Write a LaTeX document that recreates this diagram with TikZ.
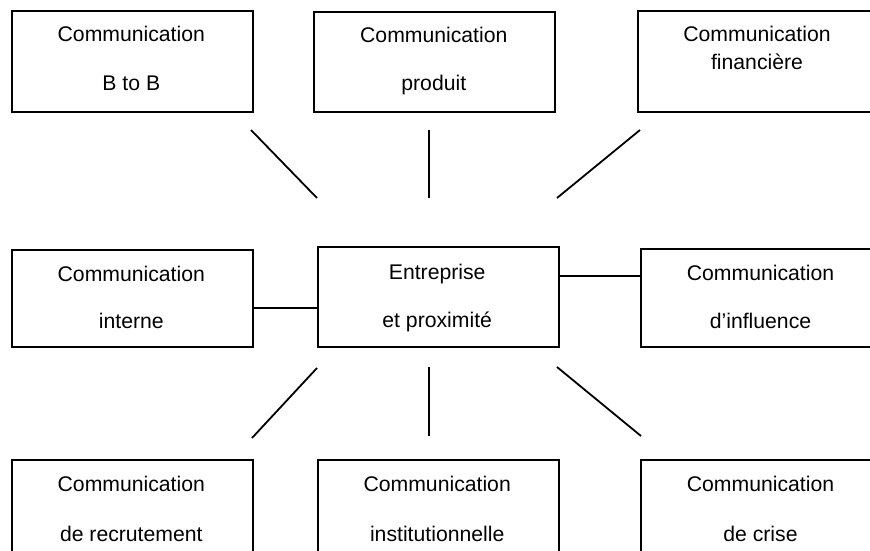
\documentclass[tikz,border=0pt]{standalone}
\usepackage{fontspec}
\setmainfont{Liberation Sans}
\begin{document}
\begin{tikzpicture}[x=1pt,y=-1pt,
  box/.style={draw, line width=2pt, minimum width=241pt, inner sep=0pt, anchor=north west},
  lbl/.style={anchor=base, inner sep=0pt, font=\fontsize{21.2}{25}\selectfont},
  link/.style={line width=1.8pt}]
\useasboundingbox (0,0) rectangle (870,551);
\clip (0,0) rectangle (870,551);

% boxes
\node[box, minimum height=101pt] (tl) at (11,10) {};
\node[box, minimum height=100pt] (tm) at (313,11) {};
\node[box, minimum height=101pt, minimum width=244pt] (tr) at (637,10) {};
\node[box, minimum height=97pt] (ml) at (11,249) {};
\node[box, minimum height=100pt] (c) at (317,246) {};
\node[box, minimum height=98pt] (mr) at (640,248) {};
\node[box, minimum height=110pt] (bl) at (11,459) {};
\node[box, minimum height=110pt] (bm) at (317,459) {};
\node[box, minimum height=110pt] (br) at (640,459) {};

% labels
\node[lbl] (tl1) at (131.3,41.5) {Communication};
\node[lbl] (tl2) at (131.3,90) {B to B};
\node[lbl] (tm1) at (433.8,42.5) {Communication};
\node[lbl] (tm2) at (433.8,90.5) {produit};
\node[lbl] (tr1) at (757,41.5) {Communication};
\node[lbl] (tr2) at (757,69.5) {financière};
\node[lbl] (ml1) at (131.3,281.5) {Communication};
\node[lbl] (ml2) at (131.3,328.3) {interne};
\node[lbl] (c1) at (437.2,279.5) {Entreprise};
\node[lbl] (c2) at (437.2,327) {et proximité};
\node[lbl] (mr1) at (760.5,280) {Communication};
\node[lbl] (mr2) at (760.5,328.3) {d’influence};
\node[lbl] (bl1) at (131.3,491.7) {Communication};
\node[lbl] (bl2) at (131.3,541) {de recrutement};
\node[lbl] (bm1) at (437.2,491.7) {Communication};
\node[lbl] (bm2) at (437.2,541) {institutionnelle};
\node[lbl] (br1) at (760.5,491.7) {Communication};
\node[lbl] (br2) at (760.5,541.5) {de crise};

% free ends of the spokes
\coordinate (tla) at (251,130);   \coordinate (tlb) at (317,198);
\coordinate (tma) at (429,130);   \coordinate (tmb) at (429,198);
\coordinate (tra) at (640,130);   \coordinate (trb) at (557,198);
\coordinate (bla) at (317,368);   \coordinate (blb) at (252,438);
\coordinate (bma) at (429,367);   \coordinate (bmb) at (429,436);
\coordinate (bra) at (557,367);   \coordinate (brb) at (641,436);

% spokes
\draw[link] (tla) -- (tlb);
\draw[link] (tma) -- (tmb);
\draw[link] (tra) -- (trb);
\draw[link] (bla) -- (blb);
\draw[link] (bma) -- (bmb);
\draw[link] (bra) -- (brb);

% horizontal links touching the boxes
\draw[link] (ml.east |- 0,308) -- (c.west |- 0,308);
\draw[link] (c.east |- 0,276) -- (mr.west |- 0,276);
\end{tikzpicture}
\end{document}
